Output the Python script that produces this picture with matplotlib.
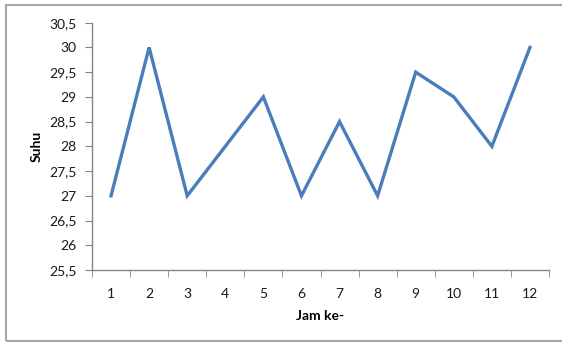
import matplotlib
matplotlib.use("Agg")
import matplotlib.pyplot as plt
from matplotlib.patches import Rectangle
from matplotlib.ticker import FixedLocator, FuncFormatter

jam = [1, 2, 3, 4, 5, 6, 7, 8, 9, 10, 11, 12]
suhu = [27, 30, 27, 28, 29, 27, 28.5, 27, 29.5, 29, 28, 30]
y_ticks = [25.5, 26, 26.5, 27, 27.5, 28, 28.5, 29, 29.5, 30, 30.5]

plt.rcParams['font.family'] = ['Lato', 'DejaVu Sans']

W, H = 562, 342
fig = plt.figure(figsize=(W / 100, H / 100), dpi=100)

# outer chart frame
fig.patches.append(Rectangle((6.5 / W, 1 - 341 / H), 600 / W, (341 - 5) / H,
                             transform=fig.transFigure, fill=False,
                             edgecolor='#a6a6a6', linewidth=1.5))

ax = fig.add_axes([92 / W, 1 - 270 / H, (549 - 92) / W, (270 - 22.7) / H])
ax.plot(jam, suhu, color='#4a7ebb', linewidth=2.4, solid_joinstyle='miter')

ax.set_xlim(0.5, 12.5)
ax.set_ylim(25.5, 30.5)
ax.yaxis.set_major_locator(FixedLocator(y_ticks))
ax.yaxis.set_major_formatter(FuncFormatter(lambda v, p: f"{v:g}".replace('.', ',')))
ax.set_xticks(jam)
ax.set_xticks([i + 0.5 for i in range(0, 13)], minor=True)

for s in ['top', 'right']:
    ax.spines[s].set_visible(False)
for s in ['left', 'bottom']:
    ax.spines[s].set_color('#868686')
    ax.spines[s].set_linewidth(1)

ax.tick_params(axis='y', length=5, color='#868686', labelsize=10, pad=6,
               labelcolor='#1a1a1a')
ax.tick_params(axis='x', which='major', length=0, labelsize=10, pad=13,
               labelcolor='#1a1a1a')
ax.tick_params(axis='x', which='minor', length=5, color='#868686')

ax.set_ylabel('Suhu', fontsize=10, fontweight='bold', labelpad=5)
ax.set_xlabel('Jam ke-', fontsize=10, fontweight='bold', labelpad=7)

fig.savefig('out.png', dpi=100)
